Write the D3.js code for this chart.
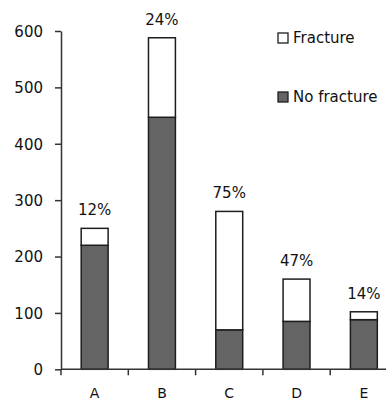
<!DOCTYPE html>
<html><head><meta charset="utf-8">
<script src="https://cdn.jsdelivr.net/npm/d3@7"></script>
<style>body{margin:0;background:#fff}svg{display:block}text{font-family:"DejaVu Sans",sans-serif}</style>
</head><body><svg id="c" width="386" height="401"></svg>
<script>
const categories = ["A","B","C","D","E"];
const noFracture = [220, 447, 70, 85, 88];
const fracture = [30, 141, 210, 75, 14];
const pctLabels = ["12%","24%","75%","47%","14%"];
const yTicks = [0,100,200,300,400,500,600];
const seriesNames = ["Fracture","No fracture"];
const colors = {"Fracture":"#ffffff","No fracture":"#646464"};

const svg = d3.select("#c");
const x = d3.scaleBand().domain(categories).range([61, 397.5]).paddingInner(0.6).paddingOuter(0.3);
const y = d3.scaleLinear().domain([0,600]).range([369.3, 31]);

const rows = categories.map((c,i)=>({cat:c, nf:noFracture[i], f:fracture[i], pct:pctLabels[i]}));

// bars
const g = svg.append("g");
rows.forEach(r=>{
  g.append("rect").attr("x", x(r.cat)).attr("width", x.bandwidth())
    .attr("y", y(r.nf)).attr("height", y(0)-y(r.nf))
    .attr("fill", colors["No fracture"]).attr("stroke","#1e1e1e").attr("stroke-width",1.5);
  g.append("rect").attr("x", x(r.cat)).attr("width", x.bandwidth())
    .attr("y", y(r.nf+r.f)).attr("height", y(r.nf)-y(r.nf+r.f))
    .attr("fill", colors["Fracture"]).attr("stroke","#1e1e1e").attr("stroke-width",1.5);
  g.append("text").attr("x", x(r.cat)+x.bandwidth()/2).attr("y", y(r.nf+r.f)-13)
    .attr("text-anchor","middle").attr("font-size",15).attr("fill","#111").text(r.pct);
});

// y axis
const ya = svg.append("g").attr("transform","translate(61,0)")
  .call(d3.axisLeft(y).tickValues(yTicks).tickSize(6).tickPadding(12).tickSizeOuter(0));
ya.select(".domain").attr("stroke","#333").attr("stroke-width",1.5);
ya.selectAll(".tick line").attr("stroke","#333").attr("stroke-width",1.5);
ya.selectAll(".tick text").attr("font-size",15).attr("fill","#111").attr("font-family","DejaVu Sans").attr("dy","0.35em");

// x axis
const xa = svg.append("g").attr("transform",`translate(0,${y(0)})`)
  .call(d3.axisBottom(x).tickSize(0).tickPadding(0).tickSizeOuter(0));
xa.select(".domain").remove();
xa.selectAll(".tick text").attr("font-size",14).attr("fill","#111").attr("font-family","DejaVu Sans").attr("dy","0").attr("y",28.5);
svg.append("line").attr("x1",61).attr("x2",386).attr("y1",y(0)).attr("y2",y(0)).attr("stroke","#333").attr("stroke-width",1.5);
const step = x.step();
const bounds = categories.map(c=> x(c) - (step - x.bandwidth())/2);
svg.selectAll(".bt").data(bounds).join("line").attr("class","bt")
  .attr("x1",d=>d).attr("x2",d=>d).attr("y1",y(0)).attr("y2",y(0)+6)
  .attr("stroke","#333").attr("stroke-width",1.5);

// legend
const leg = svg.append("g");
seriesNames.forEach((s,i)=>{
  const ly = 33 + i*59;
  leg.append("rect").attr("x",278).attr("y",ly).attr("width",10).attr("height",10)
    .attr("fill",colors[s]).attr("stroke","#1e1e1e").attr("stroke-width",1.3);
  leg.append("text").attr("x",293).attr("y",ly+10).attr("font-size",15).attr("fill","#111").text(s);
});
</script></body></html>
